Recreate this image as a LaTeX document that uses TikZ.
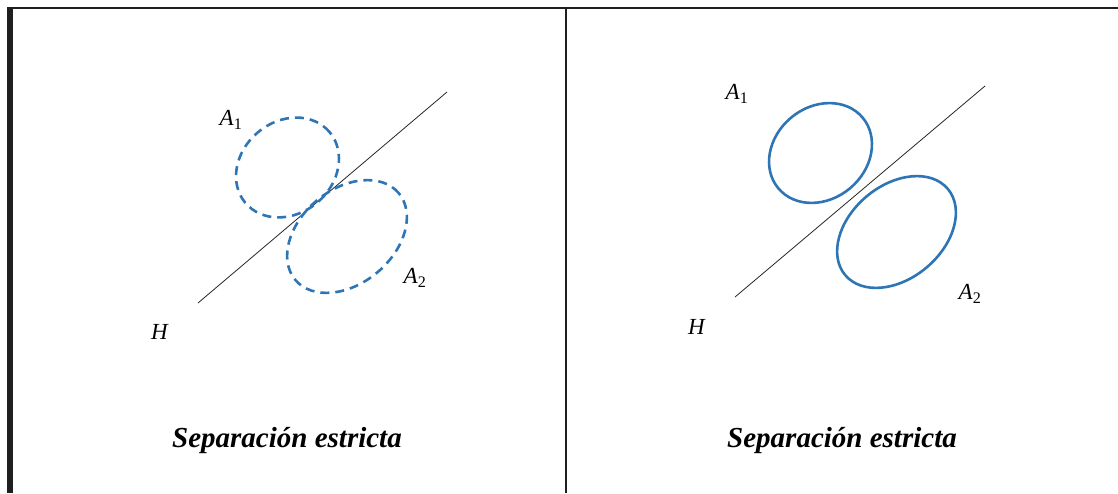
\documentclass[tikz,border=0pt]{standalone}
\usepackage{fontspec}
\setmainfont{Liberation Serif}
\usepackage{xcolor}
\usepackage{tikz}
\definecolor{setblue}{HTML}{2E75B6}

\begin{document}
\begin{tikzpicture}[
  x=1pt, y=-1pt,
  frame/.style={draw=black!88, line cap=butt},
  hyper/.style={draw=black!85, line width=0.8pt},
  setA/.style={draw=setblue, line width=2.6pt},
  setdash/.style={setA, dash pattern=on 9pt off 6pt},
  lab/.style={font=\fontsize{23}{25}\selectfont},
  caption/.style={font=\fontsize{29}{32}\selectfont\bfseries\itshape}
]
\useasboundingbox (0,0) rectangle (1118,493);
% table frame
\draw[frame, line width=6pt]   (10,7) -- (10,493);
\draw[frame, line width=2.8pt] (7,8) -- (1118,8);
\draw[frame, line width=2.2pt] (566,8) -- (566,493);

% left: strict separation (dashed sets)
\coordinate (hl0) at (198,303);
\coordinate (hl1) at (447,92);
\draw[hyper] (hl0) -- (hl1);
\draw[setdash, rotate around={40:(287.5,167.5)}] (287.5,167.5) ellipse [x radius=55pt, y radius=46pt];
\draw[setdash, rotate around={40:(347,236.5)}] (347,236.5) ellipse [x radius=67.5pt, y radius=47pt];
\node[lab] (la1) at (231,120) {\textit{A}\textsubscript{1}};
\node[lab] (la2) at (415,278) {\textit{A}\textsubscript{2}};
\node[lab] (lh)  at (160,332) {\textit{H}};
\node[caption] (lcap) at (287,441) {Separación estricta};

% right: strict separation (solid sets)
\coordinate (hr0) at (735,297);
\coordinate (hr1) at (985,86);
\draw[hyper] (hr0) -- (hr1);
\draw[setA, rotate around={40:(820.5,153)}] (820.5,153) ellipse [x radius=55pt, y radius=46pt];
\draw[setA, rotate around={40:(896.5,232)}] (896.5,232) ellipse [x radius=67pt, y radius=46.5pt];
\node[lab] (ra1) at (737,94)  {\textit{A}\textsubscript{1}};
\node[lab] (ra2) at (970,294) {\textit{A}\textsubscript{2}};
\node[lab] (rh)  at (697,327) {\textit{H}};
\node[caption] (rcap) at (842,441) {Separación estricta};
\end{tikzpicture}
\end{document}
